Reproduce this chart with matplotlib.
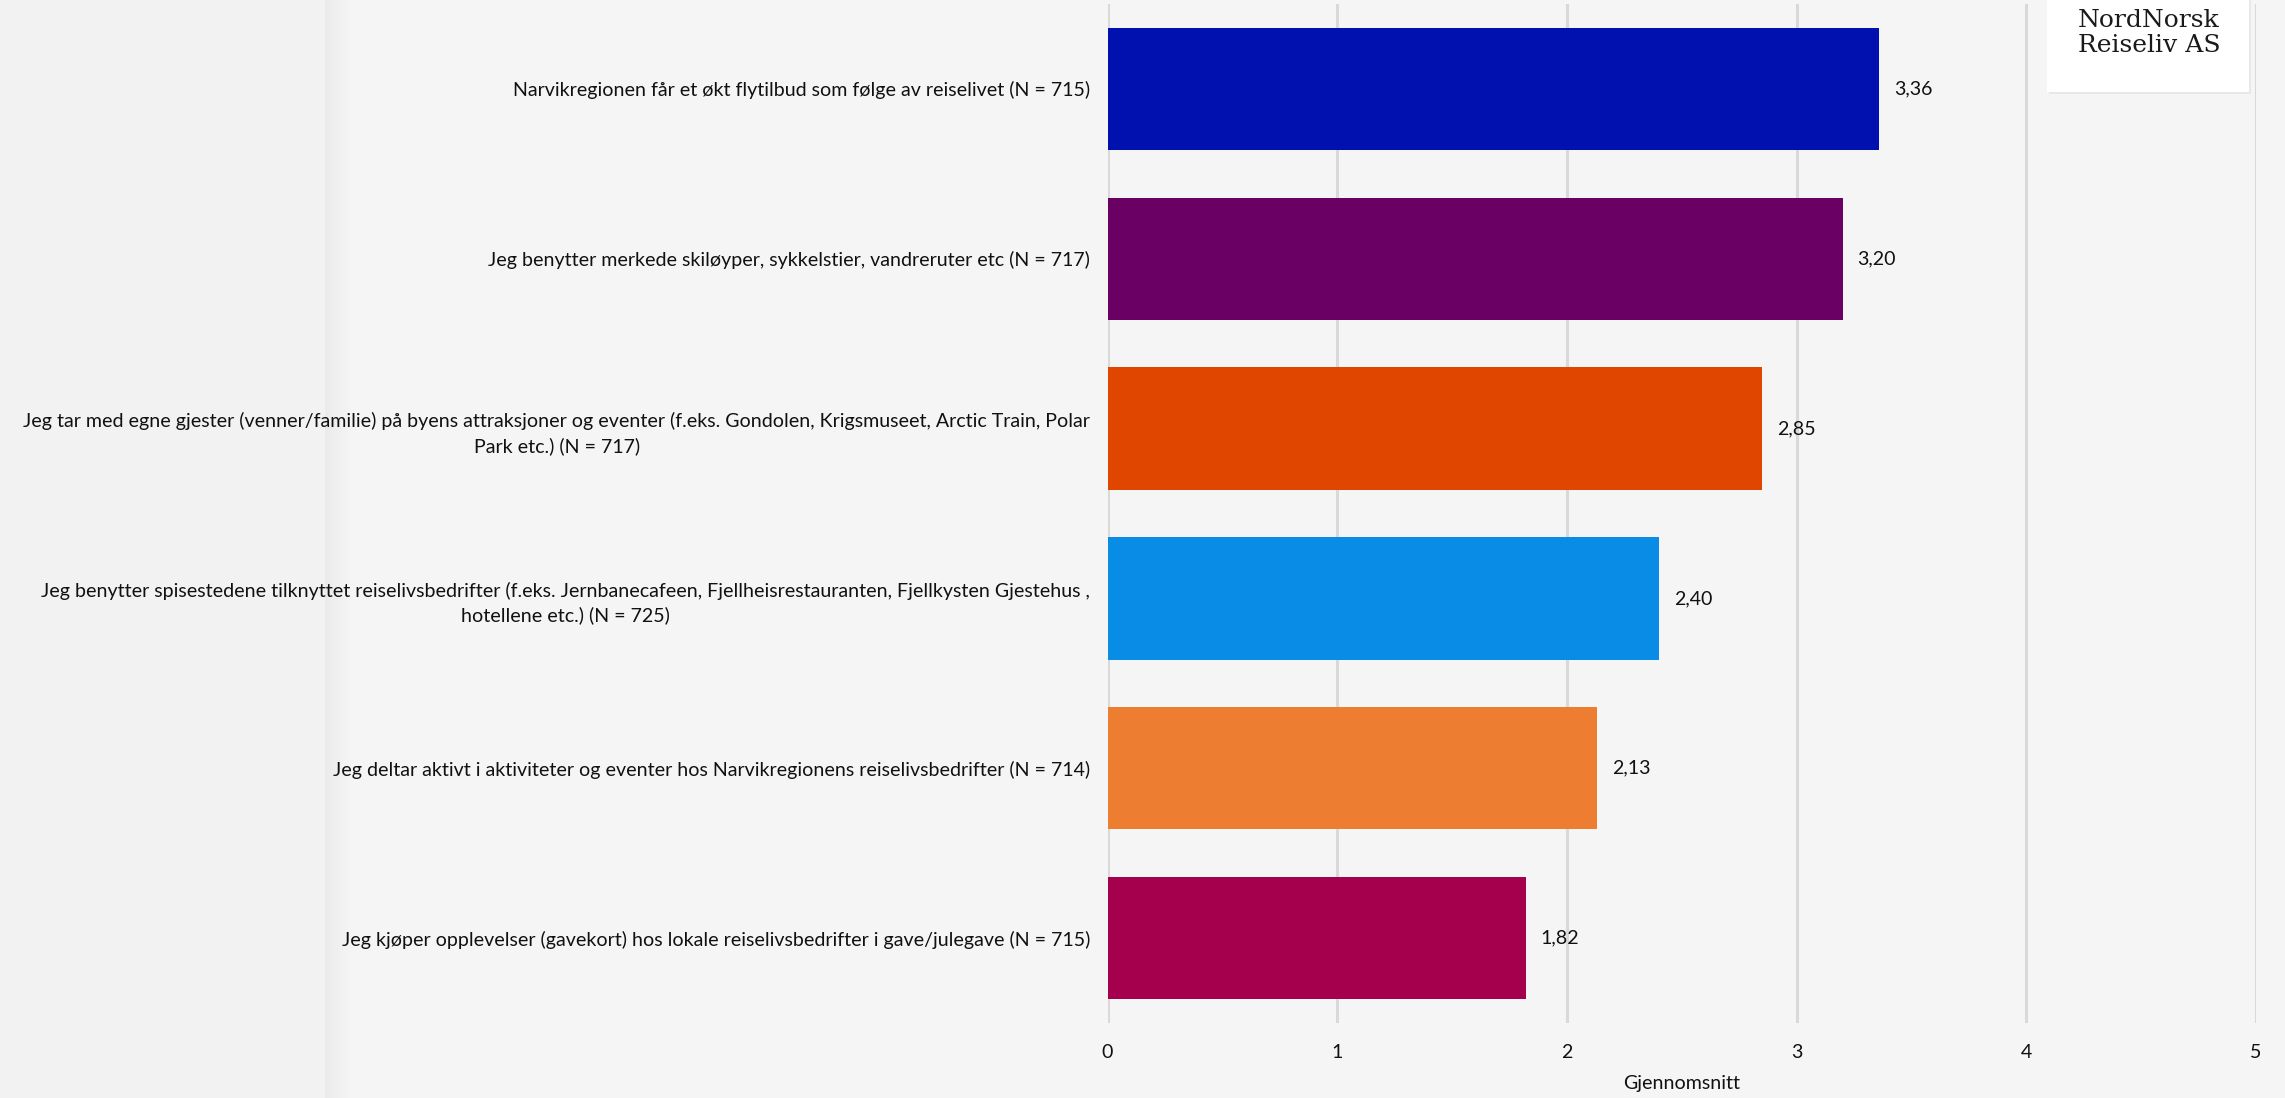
import matplotlib
matplotlib.use("Agg")
import matplotlib.pyplot as plt
from matplotlib.patches import Rectangle

categories = [
    "Narvikregionen får et økt flytilbud som følge av reiselivet (N = 715)",
    "Jeg benytter merkede skiløyper, sykkelstier, vandreruter etc (N = 717)",
    "Jeg tar med egne gjester (venner/familie) på byens attraksjoner og eventer (f.eks. Gondolen, Krigsmuseet, Arctic Train, Polar\nPark etc.) (N = 717)",
    "Jeg benytter spisestedene tilknyttet reiselivsbedrifter (f.eks. Jernbanecafeen, Fjellheisrestauranten, Fjellkysten Gjestehus ,\nhotellene etc.) (N = 725)",
    "Jeg deltar aktivt i aktiviteter og eventer hos Narvikregionens reiselivsbedrifter (N = 714)",
    "Jeg kjøper opplevelser (gavekort) hos lokale reiselivsbedrifter i gave/julegave (N = 715)",
]
values = [3.36, 3.20, 2.85, 2.40, 2.13, 1.82]
value_labels = ["3,36", "3,20", "2,85", "2,40", "2,13", "1,82"]
colors = ["#0011AF", "#6A0064", "#E14600", "#098CE6", "#ED7D31", "#A5004E"]
xticks = [0, 1, 2, 3, 4, 5]
xlabel = "Gjennomsnitt"

W, H = 2285, 1098
dpi = 100
fig = plt.figure(figsize=(W / dpi, H / dpi), dpi=dpi)
fig.patch.set_facecolor("#f5f5f5")

FONT = ["Lato", "DejaVu Sans"]

# left background panel + soft shadow band
fig.add_artist(Rectangle((0, 0), 325 / W, 1, transform=fig.transFigure,
                         facecolor="#f2f2f2", edgecolor="none", zorder=0))
band = ["#ebebeb", "#ececec", "#ededed", "#eeeeee", "#efefef", "#f0f0f0", "#f1f1f1",
        "#f2f2f2", "#f3f3f3", "#f4f4f4"]
bw = 26 / len(band)
for k, c in enumerate(band):
    fig.add_artist(Rectangle(((325 + k * bw) / W, 0), (bw + 0.5) / W, 1,
                             transform=fig.transFigure, facecolor=c,
                             edgecolor="none", zorder=0))

x0, x5 = 1107.5, 2256
ytop, ybot = 4, 1023
ax = fig.add_axes([x0 / W, 1 - ybot / H, (x5 - x0) / W, (ybot - ytop) / H])
ax.set_facecolor("none")

ypos = list(range(len(values)))
ax.barh(ypos, values, height=0.72, color=colors, zorder=3)
ax.set_ylim(len(values) - 0.5, -0.5)
ax.set_xlim(0, 5)
ax.set_xticks(xticks)
ax.set_xticklabels([str(t) for t in xticks])
ax.set_yticks(ypos)
ax.set_yticklabels(categories)
for s in ax.spines.values():
    s.set_visible(False)
ax.tick_params(axis="both", length=0)
ax.xaxis.grid(True, color="#d9d9d9", linewidth=2.2, zorder=0)
ax.set_axisbelow(True)

fs = 15.5
for lab in ax.get_yticklabels():
    lab.set_family(FONT)
    lab.set_fontsize(fs)
    lab.set_multialignment("center")
    lab.set_linespacing(1.45)
    lab.set_color("#111111")
ax.tick_params(axis="y", pad=12.6)
for lab in ax.get_xticklabels():
    lab.set_family(FONT)
    lab.set_fontsize(fs)
    lab.set_color("#111111")
ax.tick_params(axis="x", pad=15)

# fit font size so the first label is ~578 px wide
fig.canvas.draw()
r = fig.canvas.get_renderer()
w0 = ax.get_yticklabels()[0].get_window_extent(r).width
fs = fs * 578.0 / w0
for lab in ax.get_yticklabels() + ax.get_xticklabels():
    lab.set_fontsize(fs)

for i, (v, t) in enumerate(zip(values, value_labels)):
    ax.annotate(t, xy=(v, i), xytext=(10.8, 0), textcoords="offset points",
                ha="left", va="center", fontsize=fs, family=FONT, color="#111111")

fig.text((x0 + x5) / 2 / W, 1 - 1084 / H, xlabel, ha="center", va="center",
         fontsize=fs, family=FONT, color="#111111")

# logo box
fig.add_artist(Rectangle((2049 / W, 1 - 94 / H), 202 / W, 94 / H, transform=fig.transFigure,
                         facecolor="#e8e8e8", edgecolor="none", zorder=4))
fig.add_artist(Rectangle((2047 / W, 1 - 92 / H), 202 / W, 92 / H, transform=fig.transFigure,
                         facecolor="white", edgecolor="none", zorder=5))
fig.text(2078 / W, 1 - 27 / H, "NordNorsk", ha="left", va="baseline",
         fontsize=18, family="DejaVu Serif", color="#1a1a1a", zorder=6)
fig.text(2078 / W, 1 - 52 / H, "Reiseliv AS", ha="left", va="baseline",
         fontsize=18, family="DejaVu Serif", color="#1a1a1a", zorder=6)

fig.savefig("out.png", dpi=dpi, facecolor=fig.get_facecolor())
